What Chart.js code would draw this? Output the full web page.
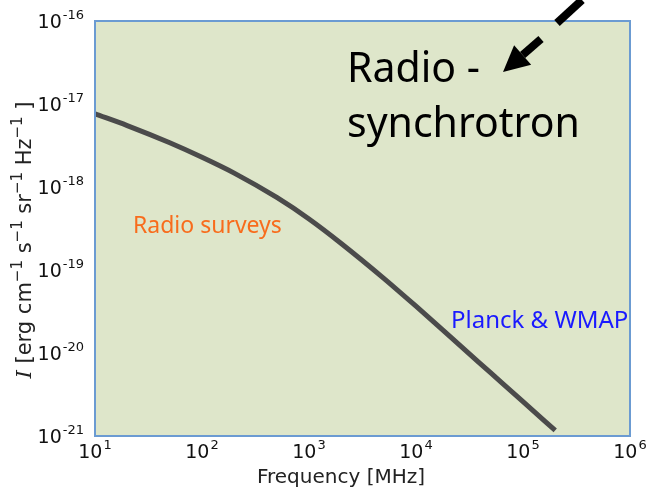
<!DOCTYPE html>
<html>
<head>
<meta charset="utf-8">
<script src="https://cdn.jsdelivr.net/npm/chart.js@4.4.1/dist/chart.umd.min.js"></script>
<style>
    html, body { margin: 0; padding: 0; background: #ffffff; }
    #wrap { width: 648px; height: 491px; }
</style>
</head>
<body>
<div id="wrap"><canvas id="synchChart"></canvas></div>
<script>
// Frequency in MHz and synchrotron intensity
const freqMHz = [10, 20, 50, 100, 200, 500, 1000, 2000, 5000, 1e4, 2e4, 5e4, 1e5, 2e5];
const intensity = [7.6e-18, 5.5e-18, 3.41e-18, 2.28e-18, 1.47e-18, 7.48e-19, 4.12e-19, 2.09e-19,
                   7.94e-20, 3.66e-20, 1.65e-20, 5.75e-21, 2.59e-21, 1.17e-21];
const xTickPowers = [1, 2, 3, 4, 5, 6];
const yTickPowers = [-21, -20, -19, -18, -17, -16];

const points = freqMHz.map((f, i) => ({ x: f, y: intensity[i] }));

// draw "10" with a raised exponent; align is "center" or "right"
function drawPower(ctx, exp, x, y, align) {
    const base = "10", sup = String(exp);
    ctx.font = "19px 'DejaVu Sans'";
    const wb = ctx.measureText(base).width;
    ctx.font = "13px 'DejaVu Sans'";
    const ws = ctx.measureText(sup).width;
    const total = wb + ws + 1;
    let x0 = align === "right" ? x - total : x - total / 2;
    ctx.fillStyle = "#111111";
    ctx.textAlign = "left";
    ctx.textBaseline = "alphabetic";
    ctx.font = "19px 'DejaVu Sans'";
    ctx.fillText(base, x0, y);
    ctx.font = "13px 'DejaVu Sans'";
    ctx.fillText(sup, x0 + wb + 1, y - 9);
}

function drawArrow(ctx, x1, y1, x2, y2) {
    const ang = Math.atan2(y2 - y1, x2 - x1);
    const headLen = 26, headW = 13;
    const bx = x2 - headLen * Math.cos(ang), by = y2 - headLen * Math.sin(ang);
    ctx.strokeStyle = "#000000";
    ctx.lineWidth = 8;
    ctx.lineCap = "butt";
    ctx.beginPath();
    ctx.moveTo(x1, y1);
    ctx.lineTo(bx, by);
    ctx.stroke();
    ctx.fillStyle = "#000000";
    ctx.beginPath();
    ctx.moveTo(x2, y2);
    ctx.lineTo(bx + headW * Math.sin(ang), by - headW * Math.cos(ang));
    ctx.lineTo(bx - headW * Math.sin(ang), by + headW * Math.cos(ang));
    ctx.closePath();
    ctx.fill();
}

const decorPlugin = {
    id: "decor",
    beforeDatasetsDraw(chart) {
        const { ctx, chartArea: a } = chart;
        ctx.save();
        ctx.fillStyle = "#dee6ca";
        ctx.fillRect(a.left, a.top, a.right - a.left, a.bottom - a.top);
        ctx.restore();
    },
    afterDraw(chart) {
        const { ctx, chartArea: a } = chart;
        const xs = chart.scales.x, ys = chart.scales.y;
        ctx.save();

        // frame
        ctx.strokeStyle = "#6b9bd2";
        ctx.lineWidth = 2;
        ctx.strokeRect(a.left, a.top, a.right - a.left, a.bottom - a.top);

        // tick labels
        xTickPowers.forEach(p => drawPower(ctx, p, xs.getPixelForValue(Math.pow(10, p)), a.bottom + 22, "center"));
        yTickPowers.forEach(p => drawPower(ctx, p, a.left - 11, ys.getPixelForValue(Math.pow(10, p)) + 7, "right"));

        // x title
        ctx.fillStyle = "#222222";
        ctx.font = "20px 'DejaVu Sans'";
        ctx.textAlign = "center";
        ctx.fillText("Frequency [MHz]", 341, 483);

        // y title with superscripts, rotated
        ctx.save();
        ctx.translate(31, 240);
        ctx.rotate(-Math.PI / 2);
        const big = "21px 'DejaVu Sans'", small = "15px 'DejaVu Sans'";
        const parts = [
            ["I", "italic 21px 'DejaVu Serif'", 0],
            [" [erg cm", big, 0], ["\u22121", small, -9],
            [" s", big, 0], ["\u22121", small, -9],
            [" sr", big, 0], ["\u22121", small, -9],
            [" Hz", big, 0], ["\u22121", small, -9],
            [" ]", big, 0]
        ];
        let total = 0;
        parts.forEach(pt => { ctx.font = pt[1]; total += ctx.measureText(pt[0]).width; });
        let cx = -total / 2;
        ctx.textAlign = "left";
        parts.forEach(pt => {
            ctx.font = pt[1];
            ctx.fillText(pt[0], cx, pt[2]);
            cx += ctx.measureText(pt[0]).width;
        });
        ctx.restore();

        // annotations
        ctx.textAlign = "left";
        ctx.fillStyle = "#000000";
        ctx.font = "41px 'Noto Sans'";
        ctx.fillText("Radio -", 347, 82);
        ctx.fillText("synchrotron", 347, 137);

        ctx.fillStyle = "#f86c1c";
        ctx.font = "23px 'Noto Sans'";
        ctx.fillText("Radio surveys", 133, 233);

        ctx.fillStyle = "#1a1aff";
        ctx.font = "24px 'Noto Sans'";
        ctx.fillText("Planck & WMAP", 451, 328);

        // arrows
        drawArrow(ctx, 541, 39, 503, 72);
        ctx.strokeStyle = "#000000";
        ctx.lineWidth = 8;
        ctx.beginPath();
        ctx.moveTo(582, 0);
        ctx.lineTo(557, 23);
        ctx.stroke();

        ctx.restore();
    }
};

const chart = new Chart(document.getElementById("synchChart").getContext("2d"), {
    type: "line",
    data: {
        datasets: [{
            data: points,
            borderColor: "#4b4b4b",
            borderWidth: 5,
            pointRadius: 0,
            fill: false,
            cubicInterpolationMode: "monotone"
        }]
    },
    options: {
        responsive: true,
        maintainAspectRatio: false,
        animation: false,
        layout: { padding: { left: 87, right: 18, top: 21, bottom: 47 } },
        plugins: { legend: { display: false }, tooltip: { enabled: false } },
        scales: {
            x: {
                type: "logarithmic", min: 10, max: 1e6,
                grid: { display: false }, border: { display: false },
                ticks: { display: false }
            },
            y: {
                type: "logarithmic", min: 1e-21, max: 1e-16,
                grid: { display: false }, border: { display: false },
                ticks: { display: false }
            }
        }
    },
    plugins: [decorPlugin]
});
</script>
</body>
</html>
